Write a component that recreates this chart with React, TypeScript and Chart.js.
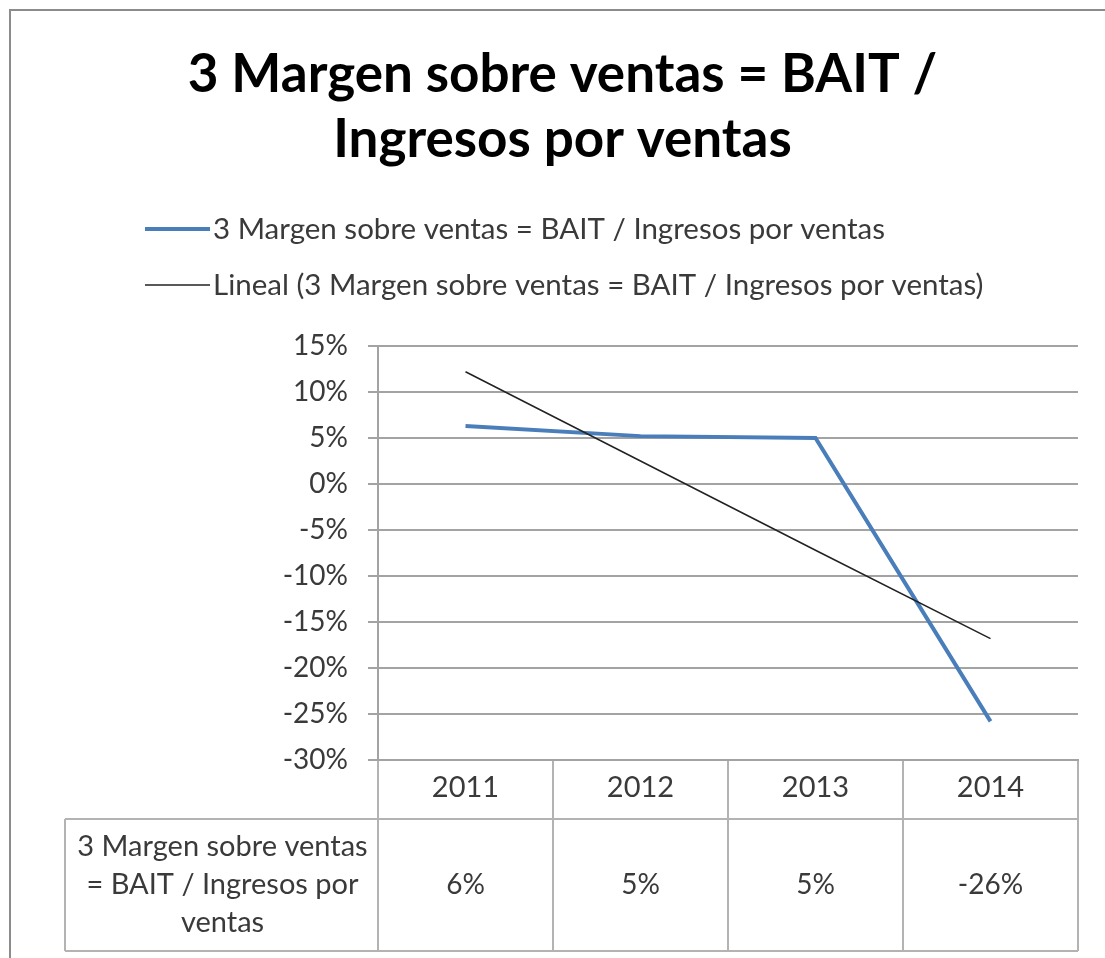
import React, { useEffect, useRef } from "react";
import { Chart, registerables } from "chart.js";

Chart.register(...registerables);

const categories = ["2011", "2012", "2013", "2014"];
const marginValues = [6.3, 5.2, 5.0, -25.8];
const trendValues = [12.2, 2.5, -7.2, -16.8];
const tableValues = ["6%", "5%", "5%", "-26%"];
const seriesName = "3 Margen sobre ventas = BAIT / Ingresos por ventas";
const trendName = "Lineal (3 Margen sobre ventas = BAIT / Ingresos por ventas)";
const titleLines = ["3 Margen sobre ventas = BAIT /", "Ingresos por ventas"];
const rowLabelLines = ["3 Margen sobre ventas", "= BAIT / Ingresos por", "ventas"];

const FONT = "Lato, 'Open Sans', sans-serif";
const TEXT = "#3a3a3a";
const GRID = "#a3a3a3";
const TABLE = "#b3b3b3";
const BLUE = "#4a7ebb";

const extrasPlugin = {
  id: "extras",
  afterDraw(chart: any) {
    const ctx = chart.ctx as CanvasRenderingContext2D;
    const area = chart.chartArea;
    const x = chart.scales.x;
    ctx.save();
    // outer border (top + left)
    ctx.strokeStyle = "#8c8c8c";
    ctx.lineWidth = 2;
    ctx.beginPath();
    ctx.moveTo(10, 958);
    ctx.lineTo(10, 10);
    ctx.lineTo(1105, 10);
    ctx.stroke();

    // legend
    ctx.font = `29.5px ${FONT}`;
    ctx.fillStyle = TEXT;
    ctx.textBaseline = "middle";
    ctx.textAlign = "left";
    ctx.strokeStyle = BLUE;
    ctx.lineWidth = 4;
    ctx.beginPath();
    ctx.moveTo(145, 229);
    ctx.lineTo(210, 229);
    ctx.stroke();
    ctx.fillText(seriesName, 213, 229);
    ctx.strokeStyle = "#222222";
    ctx.lineWidth = 1.5;
    ctx.beginPath();
    ctx.moveTo(145, 285);
    ctx.lineTo(210, 285);
    ctx.stroke();
    ctx.fillText(trendName, 213, 285);

    // data table row
    const top = x.bottom;
    const bottom = 951;
    const leftCol = 65;
    const half = (x.getPixelForValue(1) - x.getPixelForValue(0)) / 2;
    ctx.strokeStyle = TABLE;
    ctx.lineWidth = 2;
    ctx.beginPath();
    ctx.moveTo(leftCol, top);
    ctx.lineTo(area.right, top);
    ctx.moveTo(leftCol, bottom);
    ctx.lineTo(area.right, bottom);
    ctx.moveTo(leftCol, top);
    ctx.lineTo(leftCol, bottom);
    for (let i = 0; i <= categories.length; i++) {
      const px = i < categories.length ? x.getPixelForValue(i) - half : x.getPixelForValue(i - 1) + half;
      ctx.moveTo(px, top);
      ctx.lineTo(px, bottom);
    }
    ctx.stroke();

    ctx.font = `29px ${FONT}`;
    ctx.fillStyle = TEXT;
    ctx.textAlign = "center";
    const mid = 885;
    const lh = 38;
    rowLabelLines.forEach((line, i) => {
      ctx.fillText(line, (leftCol + area.left) / 2 + 1, mid + (i - (rowLabelLines.length - 1) / 2) * lh);
    });
    ctx.font = `28px ${FONT}`;
    tableValues.forEach((v, i) => {
      ctx.fillText(v, x.getPixelForValue(i), mid);
    });
    ctx.restore();
  },
};

export default function App() {
  const ref = useRef<HTMLCanvasElement>(null);
  useEffect(() => {
    if (!ref.current) return;
    const chart = new Chart(ref.current, {
      type: "line",
      data: {
        labels: categories,
        datasets: [
          {
            label: trendName,
            data: trendValues,
            borderColor: "#222222",
            borderWidth: 1.5,
            pointRadius: 0,
            tension: 0,
          },
          {
            label: seriesName,
            data: marginValues,
            borderColor: BLUE,
            borderWidth: 4,
            pointRadius: 0,
            tension: 0,
          },
        ],
      },
      options: {
        animation: false,
        responsive: false,
        layout: { padding: { left: 20, right: 0, top: 0, bottom: 139 } },
        plugins: {
          legend: { display: false },
          tooltip: { enabled: false },
          title: {
            display: true,
            text: titleLines,
            color: "#000000",
            font: { family: FONT, size: 53, weight: "bold", lineHeight: 1.226 },
            padding: { top: 42.5, bottom: 173.5 },
          },
        },
        scales: {
          x: {
            offset: true,
            afterFit: (s: any) => {
              s.height = 59;
            },
            grid: {
              offset: true,
              drawOnChartArea: false,
              tickLength: 59,
              color: TABLE,
              lineWidth: 2,
            },
            border: { color: GRID, width: 2 },
            ticks: {
              color: TEXT,
              font: { family: FONT, size: 29 },
              padding: -48.4,
              maxRotation: 0,
            },
          },
          y: {
            min: -30,
            max: 15,
            afterFit: (s: any) => {
              s.width = 358;
            },
            grid: { color: GRID, lineWidth: 2, tickLength: 10 },
            border: { color: GRID, width: 2 },
            ticks: {
              stepSize: 5,
              color: TEXT,
              font: { family: FONT, size: 28 },
              padding: 20,
              callback: (v: any) => `${v}%`,
            },
          },
          yRight: {
            position: "right",
            min: -30,
            max: 15,
            afterFit: (s: any) => {
              s.width = 27;
            },
            grid: { display: false, drawTicks: false },
            border: { display: false },
            ticks: { display: false },
          },
        },
      },
      plugins: [extrasPlugin],
    });
    return () => chart.destroy();
  }, []);
  return (
    <div style={{ position: "absolute", left: 0, top: 0, width: 1105, height: 958, background: "#fff" }}>
      <canvas ref={ref} width={1105} height={958} style={{ width: 1105, height: 958, display: "block" }} />
    </div>
  );
}
